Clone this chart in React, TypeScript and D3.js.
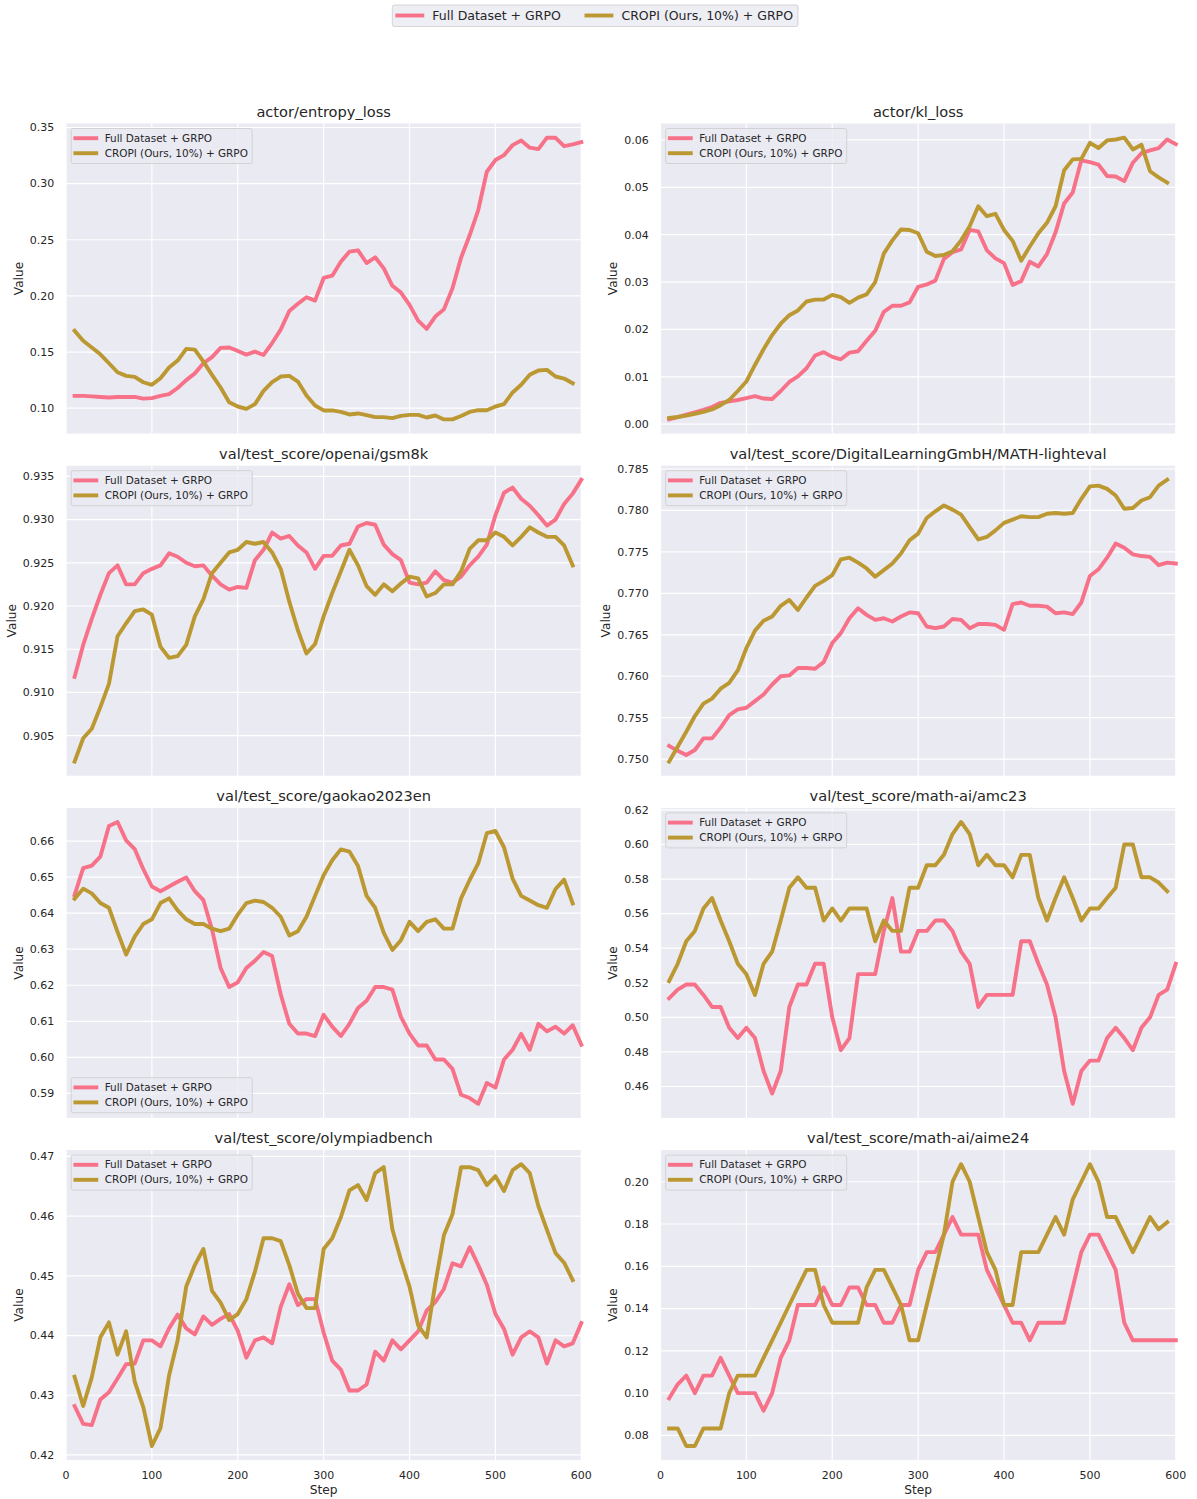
import React from 'react';
import * as d3 from 'd3';

const steps = [10, 20, 30, 40, 50, 60, 70, 80, 90, 100, 110, 120, 130, 140, 150, 160, 170, 180, 190, 200,
  210, 220, 230, 240, 250, 260, 270, 280, 290, 300, 310, 320, 330, 340, 350, 360, 370, 380, 390, 400,
  410, 420, 430, 440, 450, 460, 470, 480, 490, 500, 510, 520, 530, 540, 550, 560, 570, 580, 590, 600];

const seriesNames = ['Full Dataset + GRPO', 'CROPI (Ours, 10%) + GRPO'];
const xTicks = [0, 100, 200, 300, 400, 500, 600];

const entropyFull = [0.111, 0.111, 0.1105, 0.110, 0.1095, 0.110, 0.110, 0.110, 0.1085, 0.109,
  0.111, 0.1125, 0.118, 0.125, 0.131, 0.140, 0.1455, 0.1537, 0.154, 0.151,
  0.1477, 0.1504, 0.1474, 0.158, 0.170, 0.1866, 0.193, 0.1988, 0.1958, 0.216,
  0.218, 0.2305, 0.2394, 0.2406, 0.2293, 0.2344, 0.2245, 0.209, 0.203, 0.192,
  0.178, 0.1706, 0.1816, 0.188, 0.2068, 0.234, 0.254, 0.2765, 0.3106, 0.321,
  0.3254, 0.3343, 0.3384, 0.332, 0.3307, 0.341, 0.3408, 0.3334, 0.335, 0.337];
const entropyCropi = [0.169, 0.160, 0.154, 0.148, 0.140, 0.132, 0.1288, 0.1279, 0.1231, 0.1208,
  0.1267, 0.1362, 0.1424, 0.1528, 0.1522, 0.1415, 0.1297, 0.1184, 0.1053, 0.1015,
  0.0994, 0.1036, 0.1154, 0.1231, 0.1282, 0.1288, 0.1237, 0.1113, 0.1024, 0.098,
  0.098, 0.0967, 0.0944, 0.0953, 0.0938, 0.092, 0.092, 0.0911, 0.0932, 0.094,
  0.094, 0.0917, 0.0935, 0.090, 0.090, 0.093, 0.0967, 0.0982, 0.0982, 0.1015,
  0.1036, 0.114, 0.1208, 0.1297, 0.1335, 0.1341, 0.1282, 0.1264, 0.1222];

const klFull = [0.0010, 0.0015, 0.0020, 0.0025, 0.0030, 0.0036, 0.0045, 0.0048, 0.0051, 0.0055,
  0.0059, 0.0054, 0.0053, 0.0070, 0.0089, 0.0101, 0.0118, 0.0145, 0.0152, 0.0142,
  0.0137, 0.0151, 0.0154, 0.0176, 0.0197, 0.0237, 0.0250, 0.0250, 0.0257, 0.0290,
  0.0295, 0.0303, 0.0349, 0.0363, 0.0369, 0.0410, 0.0407, 0.0367, 0.0350, 0.0340,
  0.0294, 0.0302, 0.0343, 0.0333, 0.0359, 0.0405, 0.0466, 0.0489, 0.0557, 0.0553,
  0.0548, 0.0524, 0.0523, 0.0513, 0.0552, 0.0572, 0.0578, 0.0583, 0.0601, 0.0591];
const klCropi = [0.0013, 0.0015, 0.0018, 0.0022, 0.0026, 0.0031, 0.0040, 0.0051, 0.0070, 0.0090,
  0.0125, 0.0158, 0.0188, 0.0212, 0.0230, 0.0240, 0.0259, 0.0263, 0.0263, 0.0273,
  0.0268, 0.0256, 0.0267, 0.0274, 0.0300, 0.0360, 0.0388, 0.0411, 0.0410, 0.0403,
  0.0364, 0.0355, 0.0357, 0.0365, 0.0388, 0.0418, 0.0460, 0.0439, 0.0444, 0.0410,
  0.0387, 0.0345, 0.0375, 0.0403, 0.0425, 0.0460, 0.0536, 0.0559, 0.0560, 0.0594,
  0.0583, 0.0599, 0.0601, 0.0605, 0.0580, 0.0590, 0.0534, 0.0521, 0.0510];

const gsmFull = [0.9118, 0.9155, 0.9185, 0.9213, 0.9238, 0.9247, 0.9225, 0.9225, 0.9238, 0.9243,
  0.9247, 0.9261, 0.9257, 0.9250, 0.9246, 0.9247, 0.9235, 0.9225, 0.9219, 0.9222,
  0.9221, 0.9253, 0.9265, 0.9285, 0.9278, 0.9281, 0.9270, 0.9262, 0.9243, 0.9258,
  0.9258, 0.9270, 0.9272, 0.9292, 0.9296, 0.9294, 0.9271, 0.9260, 0.9253, 0.9227,
  0.9225, 0.9227, 0.9240, 0.9230, 0.9227, 0.9234, 0.9247, 0.9257, 0.9271, 0.9305,
  0.9331, 0.9337, 0.9324, 0.9316, 0.9305, 0.9293, 0.9300, 0.9318, 0.9330, 0.9346];
const gsmCropi = [0.9020, 0.9047, 0.9058, 0.9083, 0.9110, 0.9165, 0.9180, 0.9194, 0.9196, 0.9190,
  0.9153, 0.9140, 0.9142, 0.9155, 0.9188, 0.9208, 0.9238, 0.9250, 0.9262, 0.9265,
  0.9274, 0.9272, 0.9274, 0.9262, 0.9243, 0.9205, 0.9172, 0.9145, 0.9156, 0.9188,
  0.9215, 0.9240, 0.9265, 0.9247, 0.9223, 0.9213, 0.9225, 0.9217, 0.9226, 0.9234,
  0.9232, 0.9211, 0.9215, 0.9225, 0.9225, 0.9240, 0.9266, 0.9276, 0.9276, 0.9285,
  0.9280, 0.9270, 0.9280, 0.9291, 0.9285, 0.9280, 0.9280, 0.9270, 0.9247];

const mathFull = [0.7516, 0.7510, 0.7505, 0.7511, 0.7525, 0.7525, 0.7538, 0.7553, 0.7560, 0.7562,
  0.7570, 0.7578, 0.7590, 0.7600, 0.7601, 0.7610, 0.7610, 0.7609, 0.7617, 0.7640,
  0.7652, 0.7670, 0.7682, 0.7674, 0.7668, 0.7670, 0.7666, 0.7672, 0.7677, 0.7676,
  0.7660, 0.7658, 0.7660, 0.7669, 0.7668, 0.7658, 0.7663, 0.7663, 0.7662, 0.7656,
  0.7687, 0.7689, 0.7685, 0.7685, 0.7684, 0.7676, 0.7677, 0.7675, 0.7689, 0.7721,
  0.7729, 0.7743, 0.7760, 0.7755, 0.7747, 0.7745, 0.7744, 0.7734, 0.7737, 0.7736];
const mathCropi = [0.7497, 0.7515, 0.7533, 0.7552, 0.7567, 0.7573, 0.7585, 0.7592, 0.7607, 0.7634,
  0.7655, 0.7667, 0.7672, 0.7685, 0.7692, 0.7680, 0.7695, 0.7709, 0.7715, 0.7722,
  0.7741, 0.7743, 0.7737, 0.7730, 0.7720, 0.7728, 0.7736, 0.7748, 0.7764, 0.7772,
  0.7791, 0.7799, 0.7806, 0.7801, 0.7795, 0.7780, 0.7765, 0.7768, 0.7776, 0.7785,
  0.7789, 0.7793, 0.7792, 0.7792, 0.7796, 0.7797, 0.7796, 0.7797, 0.7814, 0.7829,
  0.7830, 0.7826, 0.7818, 0.7802, 0.7803, 0.7812, 0.7816, 0.7830, 0.7837];

const gaokaoFull = [0.6450, 0.6525, 0.6532, 0.6557, 0.6642, 0.6653, 0.6602, 0.6578, 0.6522, 0.6474,
  0.6461, 0.6474, 0.6487, 0.6499, 0.6461, 0.6436, 0.6355, 0.6248, 0.6195, 0.6208,
  0.6248, 0.6268, 0.6292, 0.6281, 0.6175, 0.6093, 0.6066, 0.6066, 0.6059, 0.6118,
  0.6085, 0.6059, 0.6093, 0.6137, 0.6157, 0.6195, 0.6195, 0.6188, 0.6112, 0.6066,
  0.6033, 0.6033, 0.5994, 0.5994, 0.5968, 0.5896, 0.5887, 0.5871, 0.5929, 0.5916,
  0.5994, 0.6021, 0.6065, 0.6021, 0.6093, 0.6072, 0.6085, 0.6066, 0.6089, 0.6035];
const gaokaoCropi = [0.6440, 0.6468, 0.6455, 0.6428, 0.6415, 0.6348, 0.6285, 0.6335, 0.6370, 0.6383,
  0.6428, 0.6441, 0.6408, 0.6383, 0.6370, 0.6370, 0.6357, 0.6350, 0.6357, 0.6396,
  0.6428, 0.6435, 0.6431, 0.6415, 0.6390, 0.6338, 0.6350, 0.6390, 0.6448, 0.6505,
  0.6547, 0.6577, 0.6571, 0.6531, 0.6448, 0.6415, 0.6345, 0.6298, 0.6325, 0.6376,
  0.6350, 0.6376, 0.6383, 0.6357, 0.6357, 0.6441, 0.6492, 0.6538, 0.6622, 0.6628,
  0.6583, 0.6496, 0.6448, 0.6435, 0.6422, 0.6415, 0.6467, 0.6493, 0.6427];

const amcFull = [0.511, 0.516, 0.519, 0.519, 0.513, 0.506, 0.506, 0.494, 0.488, 0.494,
  0.488, 0.469, 0.456, 0.469, 0.506, 0.519, 0.519, 0.531, 0.531, 0.500,
  0.481, 0.488, 0.525, 0.525, 0.525, 0.550, 0.569, 0.538, 0.538, 0.550,
  0.550, 0.556, 0.556, 0.550, 0.538, 0.531, 0.506, 0.513, 0.513, 0.513,
  0.513, 0.544, 0.544, 0.531, 0.519, 0.500, 0.469, 0.450, 0.469, 0.475,
  0.475, 0.488, 0.494, 0.488, 0.481, 0.494, 0.500, 0.513, 0.516, 0.531];
const amcCropi = [0.521, 0.531, 0.544, 0.550, 0.563, 0.569, 0.556, 0.544, 0.531, 0.525,
  0.513, 0.531, 0.538, 0.556, 0.575, 0.581, 0.575, 0.575, 0.556, 0.563,
  0.556, 0.563, 0.563, 0.563, 0.544, 0.556, 0.550, 0.550, 0.575, 0.575,
  0.588, 0.588, 0.594, 0.606, 0.613, 0.606, 0.588, 0.594, 0.588, 0.588,
  0.581, 0.594, 0.594, 0.569, 0.556, 0.569, 0.581, 0.569, 0.556, 0.563,
  0.563, 0.569, 0.575, 0.600, 0.600, 0.581, 0.581, 0.578, 0.573];

const olympFull = [0.4282, 0.4252, 0.4250, 0.4293, 0.4305, 0.4328, 0.4352, 0.4353, 0.4392, 0.4392,
  0.4382, 0.4412, 0.4435, 0.4412, 0.4402, 0.4432, 0.4418, 0.4428, 0.4436, 0.4408,
  0.4363, 0.4392, 0.4397, 0.4387, 0.4448, 0.4486, 0.4451, 0.4461, 0.4461, 0.4405,
  0.4358, 0.4343, 0.4308, 0.4308, 0.4318, 0.4373, 0.4358, 0.4392, 0.4377, 0.4392,
  0.4407, 0.4442, 0.4456, 0.4478, 0.4521, 0.4516, 0.4548, 0.4518, 0.4485, 0.4436,
  0.4411, 0.4368, 0.4397, 0.4407, 0.4397, 0.4353, 0.4392, 0.4382, 0.4387, 0.4421];
const olympCropi = [0.4331, 0.4282, 0.4330, 0.4397, 0.4422, 0.4368, 0.4407, 0.4323, 0.4280, 0.4215,
  0.4245, 0.4333, 0.4392, 0.4482, 0.4518, 0.4545, 0.4475, 0.4455, 0.4426, 0.4436,
  0.4461, 0.4507, 0.4563, 0.4563, 0.4558, 0.4518, 0.4470, 0.4446, 0.4446, 0.4545,
  0.4563, 0.4598, 0.4643, 0.4652, 0.4627, 0.4672, 0.4682, 0.4578, 0.4527, 0.4482,
  0.4417, 0.4397, 0.4487, 0.4568, 0.4603, 0.4682, 0.4682, 0.4677, 0.4652, 0.4667,
  0.4642, 0.4677, 0.4687, 0.4672, 0.4617, 0.4577, 0.4538, 0.4522, 0.4493];

const aimeFull = [0.0975, 0.1042, 0.1083, 0.1000, 0.1083, 0.1083, 0.1167, 0.1083, 0.1000, 0.1000,
  0.1000, 0.0917, 0.1000, 0.1167, 0.1250, 0.1417, 0.1417, 0.1417, 0.1500, 0.1417,
  0.1417, 0.1500, 0.1500, 0.1417, 0.1417, 0.1333, 0.1333, 0.1417, 0.1417, 0.1583,
  0.1667, 0.1667, 0.1750, 0.1833, 0.1750, 0.1750, 0.1750, 0.1583, 0.1500, 0.1417,
  0.1333, 0.1333, 0.1250, 0.1333, 0.1333, 0.1333, 0.1333, 0.1500, 0.1667, 0.1750,
  0.1750, 0.1667, 0.1583, 0.1333, 0.1250, 0.1250, 0.1250, 0.1250, 0.1250, 0.1250];
const aimeCropi = [0.0833, 0.0833, 0.0750, 0.0750, 0.0833, 0.0833, 0.0833, 0.1000, 0.1083, 0.1083,
  0.1083, 0.1167, 0.1250, 0.1333, 0.1417, 0.1500, 0.1583, 0.1583, 0.1417, 0.1333,
  0.1333, 0.1333, 0.1333, 0.1500, 0.1583, 0.1583, 0.1500, 0.1417, 0.1250, 0.1250,
  0.1417, 0.1583, 0.1750, 0.2000, 0.2083, 0.2000, 0.1833, 0.1667, 0.1583, 0.1417,
  0.1417, 0.1667, 0.1667, 0.1667, 0.1750, 0.1833, 0.1750, 0.1917, 0.2000, 0.2083,
  0.2000, 0.1833, 0.1833, 0.1750, 0.1667, 0.1750, 0.1833, 0.1775, 0.1808];

const titles = ['actor/entropy_loss', 'actor/kl_loss', 'val/test_score/openai/gsm8k',
  'val/test_score/DigitalLearningGmbH/MATH-lighteval', 'val/test_score/gaokao2023en',
  'val/test_score/math-ai/amc23', 'val/test_score/olympiadbench', 'val/test_score/math-ai/aime24'];

const yTickLabels = [
  ['0.10', '0.15', '0.20', '0.25', '0.30', '0.35'],
  ['0.00', '0.01', '0.02', '0.03', '0.04', '0.05', '0.06'],
  ['0.905', '0.910', '0.915', '0.920', '0.925', '0.930', '0.935'],
  ['0.750', '0.755', '0.760', '0.765', '0.770', '0.775', '0.780', '0.785'],
  ['0.59', '0.60', '0.61', '0.62', '0.63', '0.64', '0.65', '0.66'],
  ['0.46', '0.48', '0.50', '0.52', '0.54', '0.56', '0.58', '0.60', '0.62'],
  ['0.42', '0.43', '0.44', '0.45', '0.46', '0.47'],
  ['0.08', '0.10', '0.12', '0.14', '0.16', '0.18', '0.20'],
];

const fullSeries = [entropyFull, klFull, gsmFull, mathFull, gaokaoFull, amcFull, olympFull, aimeFull];
const cropiSeries = [entropyCropi, klCropi, gsmCropi, mathCropi, gaokaoCropi, amcCropi, olympCropi, aimeCropi];
const legendAtBottom = [false, false, false, false, true, false, false, false];

const COLORS = ['#f77189', '#bb9832'];
const TEXT = '#262626';
const FONT = 'DejaVu Sans, sans-serif';
const LW = 3.9;

const colLeft = [66, 660.5];
const plotW = 515.3;
const rowTop = [123.5, 465.7, 807.9, 1150.1];
const plotH = 310;

// rough DejaVu Sans advance widths (em) for tick labels
const textWidth = (s: string, fs: number) =>
  s.split('').reduce((w, c) => w + (c === '.' ? 0.318 : 0.636), 0) * fs;

const LEG_FS = 10.45;
const longestLabelEm = 13.72;

function Legend({ x, y }: { x: number; y: number }) {
  const w = 3.6 * LEG_FS + longestLabelEm * LEG_FS;
  const h = 35;
  return (
    <g transform={`translate(${x},${y})`}>
      <rect width={w} height={h} rx={2} fill="#EAEAF2" fillOpacity={0.8} stroke="#cccccc" strokeOpacity={0.8} />
      {seriesNames.map((name, i) => (
        <g key={name} transform={`translate(0,${9.7 + i * 15})`}>
          <line x1={0.4 * LEG_FS} x2={2.4 * LEG_FS} stroke={COLORS[i]} strokeWidth={LW} strokeLinecap="square" />
          <text x={3.2 * LEG_FS} dy="0.35em" fontSize={LEG_FS} fill={TEXT}>{name}</text>
        </g>
      ))}
    </g>
  );
}

function Panel({ idx }: { idx: number }) {
  const col = idx % 2;
  const row = Math.floor(idx / 2);
  const left = colLeft[col];
  const top = rowTop[row];
  const full = fullSeries[idx];
  const cropi = cropiSeries[idx];

  const x = d3.scaleLinear().domain([0, 600]).range([left, left + plotW]);
  const [lo, hi] = d3.extent([...full, ...cropi]) as [number, number];
  const pad = (hi - lo) * 0.05;
  const y = d3.scaleLinear().domain([lo - pad, hi + pad]).range([top + plotH, top]);

  const line = d3.line<number>()
    .x((_, i) => x(steps[i]))
    .y(d => y(d));

  const ticks = yTickLabels[idx];
  const tickW = d3.max(ticks, t => textWidth(t, 11)) as number;
  const yLabelX = left - 11.7 - tickW - 7;
  const isBottom = row === 3;

  return (
    <g>
      <rect x={left} y={top} width={plotW} height={plotH} fill="#EAEAF2" />
      {xTicks.map(t => (
        <line key={'gx' + t} x1={x(t)} x2={x(t)} y1={top} y2={top + plotH} stroke="#ffffff" strokeWidth={1.2} />
      ))}
      {ticks.map(t => (
        <line key={'gy' + t} x1={left} x2={left + plotW} y1={y(+t)} y2={y(+t)} stroke="#ffffff" strokeWidth={1.2} />
      ))}
      <path d={line(full) || ''} fill="none" stroke={COLORS[0]} strokeWidth={LW} strokeLinejoin="round" strokeLinecap="square" />
      <path d={line(cropi) || ''} fill="none" stroke={COLORS[1]} strokeWidth={LW} strokeLinejoin="round" strokeLinecap="square" />
      {ticks.map(t => (
        <text key={'ty' + t} x={left - 11.7} y={y(+t)} dy="0.35em" textAnchor="end" fontSize={11} fill={TEXT}>{t}</text>
      ))}
      {isBottom && xTicks.map(t => (
        <text key={'tx' + t} x={x(t)} y={top + plotH + 19} textAnchor="middle" fontSize={11} fill={TEXT}>{t}</text>
      ))}
      {isBottom && (
        <text x={left + plotW / 2} y={1494} textAnchor="middle" fontSize={12.2} fill={TEXT}>Step</text>
      )}
      <text transform={`translate(${yLabelX},${top + plotH / 2}) rotate(-90)`} textAnchor="middle" fontSize={12.2} fill={TEXT}>Value</text>
      <text x={left + plotW / 2} y={top - 7} textAnchor="middle" fontSize={14.6} fill={TEXT}>{titles[idx]}</text>
      <Legend x={left + 5.2} y={legendAtBottom[idx] ? top + plotH - 5.2 - 35 : top + 5} />
    </g>
  );
}

function TopLegend() {
  const fs = 12.5;
  const boxX = 392.3;
  const w1 = 10.333 * fs;
  const w2 = 13.72 * fs;
  const h1 = boxX + 0.4 * fs;
  const t1 = h1 + 2.8 * fs;
  const h2 = t1 + w1 + 2 * fs;
  const t2 = h2 + 2.8 * fs;
  const boxW = t2 + w2 + 0.4 * fs - boxX;
  const cy = 15.5;
  return (
    <g>
      <rect x={boxX} y={5} width={boxW} height={21.5} rx={2} fill="#EAEAF2" fillOpacity={0.8} stroke="#cccccc" strokeOpacity={0.8} />
      <line x1={h1} x2={h1 + 2 * fs} y1={cy} y2={cy} stroke={COLORS[0]} strokeWidth={LW} strokeLinecap="square" />
      <text x={t1} y={cy} dy="0.35em" fontSize={fs} fill={TEXT}>{seriesNames[0]}</text>
      <line x1={h2} x2={h2 + 2 * fs} y1={cy} y2={cy} stroke={COLORS[1]} strokeWidth={LW} strokeLinecap="square" />
      <text x={t2} y={cy} dy="0.35em" fontSize={fs} fill={TEXT}>{seriesNames[1]}</text>
    </g>
  );
}

export default function App() {
  return (
    <svg width={1197} height={1499} style={{ position: 'absolute', left: 0, top: 0, background: '#ffffff' }}
      fontFamily={FONT}>
      <rect width={1197} height={1499} fill="#ffffff" />
      <TopLegend />
      {titles.map((_, i) => <Panel key={i} idx={i} />)}
    </svg>
  );
}
